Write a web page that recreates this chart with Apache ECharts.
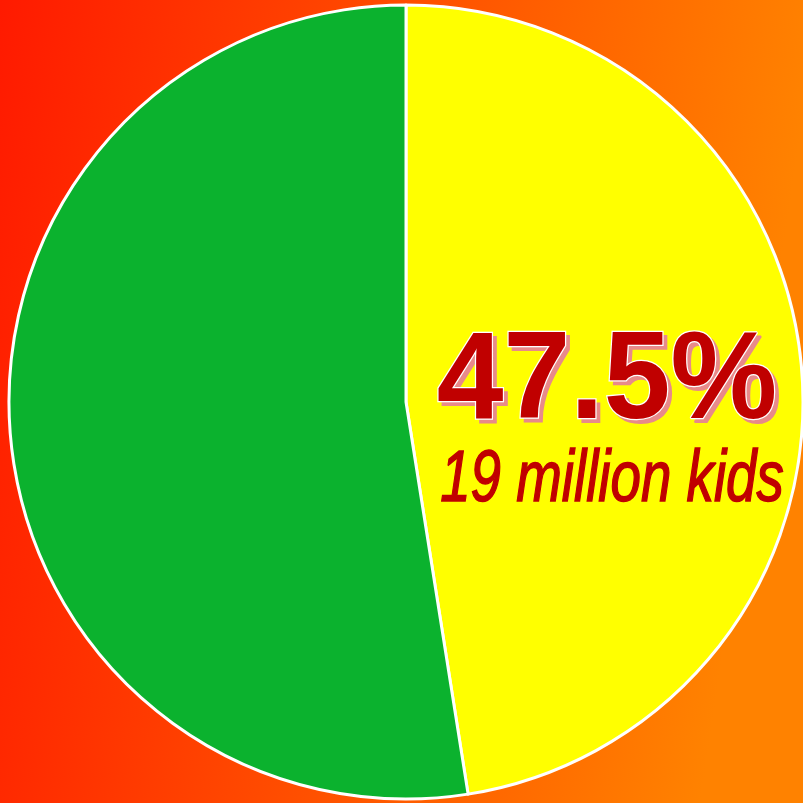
<!DOCTYPE html>
<html>
<head>
<meta charset="utf-8">
<script src="https://cdn.jsdelivr.net/npm/echarts@6/dist/echarts.min.js"></script>
<style>
  html, body { margin: 0; padding: 0; }
  #chart { width: 803px; height: 803px; }
</style>
</head>
<body>
<div id="chart"></div>
<script>
const categories = ['kids', 'others']
const shares = [47.5, 52.5]
const sliceColors = ['#ffff00', '#0bb22e']
const bigLabel = '47.5%'
const smallLabel = '19 million kids'

const myChart = echarts.init(document.getElementById('chart'))

const option = {
  backgroundColor: {
    type: 'linear', x: 0, y: 0, x2: 1, y2: 0.15,
    colorStops: [
      { offset: 0, color: '#ff1a00' },
      { offset: 1, color: '#ff8200' }
    ]
  },
  animation: false,
  series: [
    {
      type: 'pie',
      center: [406, 402],
      radius: 397,
      startAngle: 90,
      clockwise: true,
      label: { show: false },
      labelLine: { show: false },
      emphasis: { disabled: true },
      itemStyle: {
        borderColor: '#ffffff',
        borderWidth: 3
      },
      data: categories.map((name, i) => ({
        name: name,
        value: shares[i],
        itemStyle: { color: sliceColors[i] }
      }))
    }
  ],
  graphic: [
    // shadow copy of the big label
    {
      type: 'text',
      z: 99,
      x: 611,
      y: 450,
      scaleX: 0.96,
      style: {
        text: bigLabel,
        font: 'bold 125px "Liberation Sans", Arial, sans-serif',
        fill: '#e88a8a',
        stroke: '#e88a8a',
        lineWidth: 2,
        align: 'center',
        verticalAlign: 'bottom'
      }
    },
    {
      type: 'text',
      z: 100,
      x: 607,
      y: 446,
      scaleX: 0.96,
      style: {
        text: bigLabel,
        font: 'bold 125px "Liberation Sans", Arial, sans-serif',
        fill: '#c00000',
        stroke: '#ffffff',
        lineWidth: 2.5,
        align: 'center',
        verticalAlign: 'bottom'
      }
    },
    {
      type: 'text',
      z: 100,
      x: 612,
      y: 517,
      scaleX: 0.76,
      style: {
        text: smallLabel,
        font: 'italic 72px "Liberation Sans", Arial, sans-serif',
        fill: '#c00000',
        stroke: '#c00000',
        lineWidth: 1.5,
        align: 'center',
        verticalAlign: 'bottom'
      }
    }
  ]
}

myChart.setOption(option)
</script>
</body>
</html>
